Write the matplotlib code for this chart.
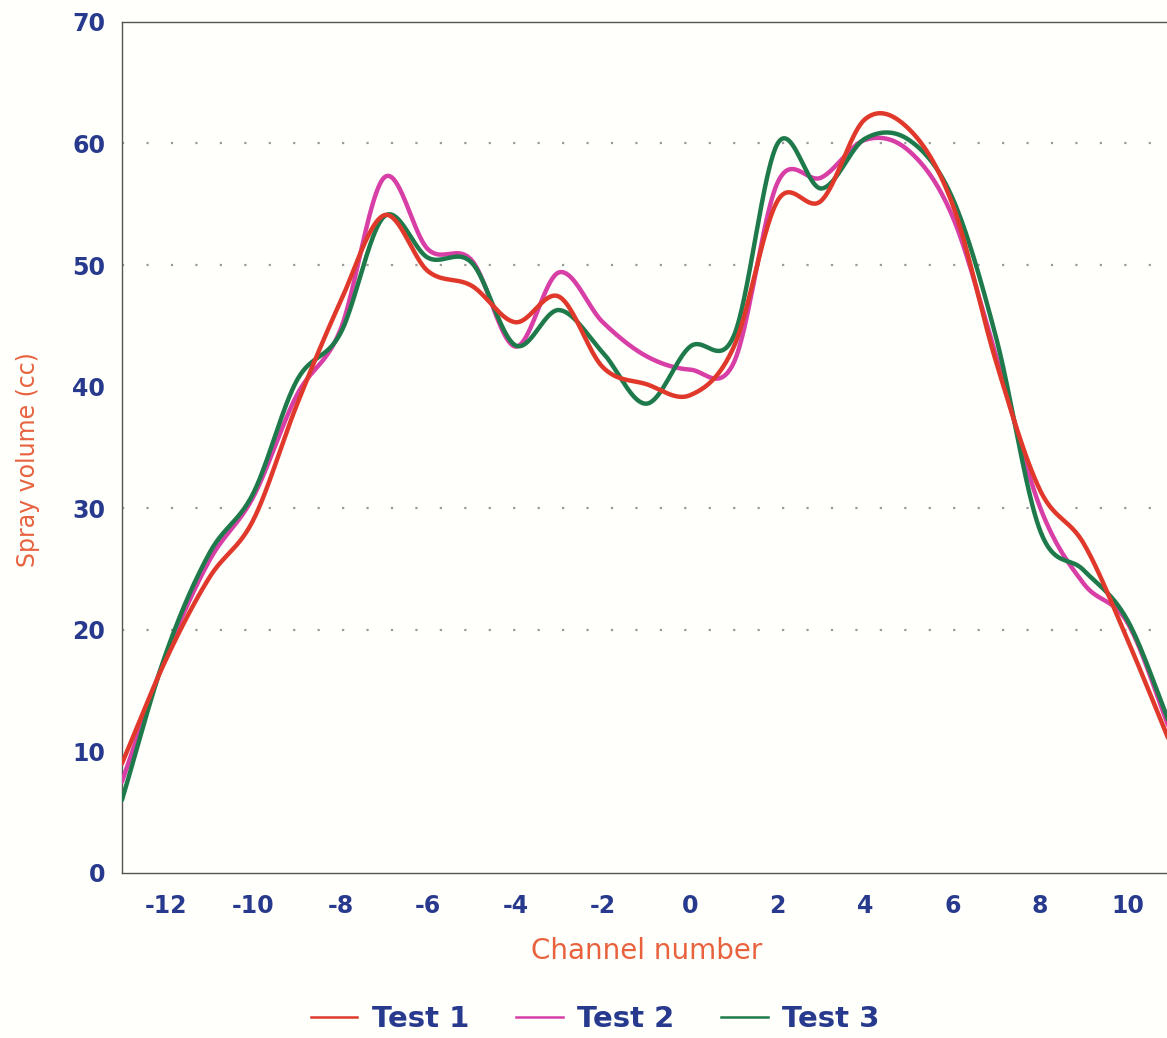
import numpy as np
import matplotlib.pyplot as plt
from matplotlib.lines import Line2D

plt.rcParams['axes.unicode_minus'] = False

# Channel positions and measured spray volume (cc) per test
channels = np.arange(-13, 12)
test1 = [9.0, 17.5, 24.3, 29.0, 38.5, 47.0, 54.1, 49.5, 48.3, 45.3, 47.4, 41.6, 40.2,
         39.3, 43.3, 55.3, 55.3, 62.0, 61.2, 55.0, 42.0, 31.5, 27.1, 19.2, 10.5]
test2 = [7.5, 17.8, 25.7, 30.9, 39.3, 44.7, 57.2, 51.3, 50.4, 43.3, 49.4, 45.3, 42.5,
         41.4, 42.0, 56.8, 57.2, 60.3, 59.4, 54.0, 42.5, 30.1, 23.8, 20.6, 11.5]
test3 = [6.0, 18.0, 26.3, 31.2, 40.5, 44.4, 54.0, 50.6, 50.2, 43.4, 46.3, 42.8, 38.6,
         43.3, 44.2, 60.0, 56.3, 60.4, 60.3, 55.5, 44.0, 28.2, 24.9, 20.8, 12.0]
series_names = ['Test 1', 'Test 2', 'Test 3']
series_colors = ['#e0392b', '#d83fa6', '#1f7a4b']
grid_levels = [20, 30, 50, 60]


def smooth_curve(x, y, n=1000):
    # Catmull-Rom curve through the measured points
    x = np.asarray(x, float)
    y = np.asarray(y, float)
    h = np.diff(x)
    m = np.gradient(y, x)
    xs = np.linspace(x[0], x[-1], n)
    k = np.clip(np.searchsorted(x, xs) - 1, 0, len(x) - 2)
    t = (xs - x[k]) / h[k]
    h00 = 2 * t ** 3 - 3 * t ** 2 + 1
    h10 = t ** 3 - 2 * t ** 2 + t
    h01 = -2 * t ** 3 + 3 * t ** 2
    h11 = t ** 3 - t ** 2
    ys = h00 * y[k] + h10 * h[k] * m[k] + h01 * y[k + 1] + h11 * h[k] * m[k + 1]
    return xs, ys


blue = '#283a8e'
orange = '#e8623e'

fig = plt.figure(figsize=(11.67, 10.38), dpi=100, facecolor='#fffffb')
ax = fig.add_axes([0.1045, 0.159, 0.899, 0.8199])
ax.set_facecolor('#fffffb')

for lvl in grid_levels:
    ax.axhline(lvl, color='#9a9a9a', lw=1.6, ls=(0, (1, 10)), zorder=1)

data = [test1, test2, test3]
for idx in [1, 2, 0]:
    xs, ys = smooth_curve(channels, data[idx])
    ax.plot(xs, ys, color=series_colors[idx], lw=3.2, solid_capstyle='round', zorder=3)

ax.set_xlim(-13, 11)
ax.set_ylim(0, 70)
ax.set_xticks(np.arange(-12, 11, 2))
ax.set_yticks(np.arange(0, 71, 10))
ax.tick_params(length=0, labelcolor=blue, labelsize=17)
ax.tick_params(axis='x', pad=15)
ax.tick_params(axis='y', pad=12)
for lab in ax.get_xticklabels() + ax.get_yticklabels():
    lab.set_fontweight('bold')

for side in ['left', 'bottom', 'top', 'right']:
    ax.spines[side].set_color('#555555')
    ax.spines[side].set_linewidth(1.0)

ax.set_xlabel('Channel number', color=orange, fontsize=20, labelpad=14)
fig.text(0.024, 0.557, 'Spray volume (cc)', rotation=90, color=orange,
         fontsize=17, ha='center', va='center')

handles = [Line2D([], [], color=c, lw=1.8) for c in series_colors]
leg = fig.legend(handles, series_names, loc='center', bbox_to_anchor=(0.51, 0.018),
                 ncol=3, frameon=False, handlelength=1.6, handletextpad=0.5,
                 columnspacing=1.6, prop={'size': 21, 'weight': 'bold'})
for t in leg.get_texts():
    t.set_color(blue)

fig.savefig('out.png', dpi=100, facecolor=fig.get_facecolor())
